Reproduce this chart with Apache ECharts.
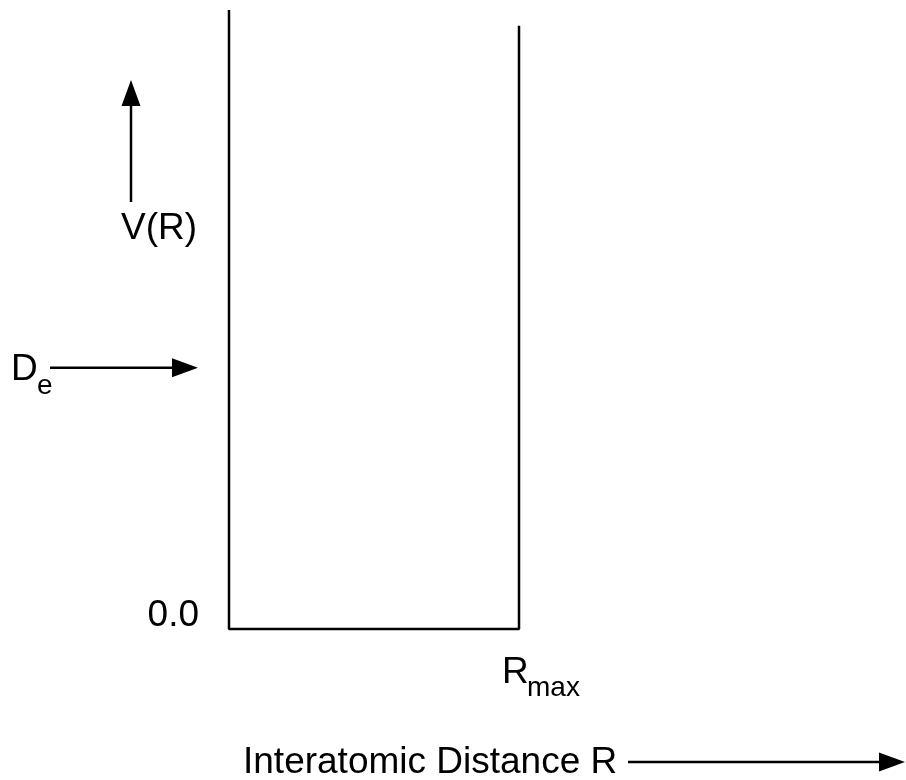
<!DOCTYPE html>
<html>
<head>
<meta charset="utf-8">
<script src="https://cdn.jsdelivr.net/npm/echarts@6/dist/echarts.min.js"></script>
<style>
  html, body { margin: 0; background: #fff; }
  #chart { width: 906px; height: 780px; }
</style>
</head>
<body>
<div id="chart"></div>
<script>
// square well: walls at R = 0 and R = Rmax, floor at V = 0
const wellR = [0, 0, 1, 1]
const wellV = [2.37, 0, 0, 2.31]
const deLevel = 1.0
const rMax = 1
const zeroLabel = '0.0'
const xTitle = 'Interatomic Distance R'
const yTitle = 'V(R)'

const font = 'Liberation Sans, Arial, sans-serif'
const chart = echarts.init(document.getElementById('chart'))

chart.setOption({
  animation: false,
  grid: { left: 229, right: 387, top: 10, bottom: 151 },
  xAxis: { type: 'value', min: 0, max: rMax, show: false },
  yAxis: { type: 'value', min: 0, max: 2.37, show: false },
  series: [{
    type: 'line',
    data: wellR.map((r, i) => [r, wellV[i]]),
    symbol: 'none',
    clip: false,
    lineStyle: { color: '#000', width: 2.5 }
  }]
})

const px = (x, y) => chart.convertToPixel({ gridIndex: 0 }, [x, y])

// line + filled triangular head
function arrow(x1, y1, x2, y2) {
  const len = Math.hypot(x2 - x1, y2 - y1)
  const dx = (x2 - x1) / len, dy = (y2 - y1) / len
  const L = 26, w = 9.5
  const bx = x2 - dx * L, by = y2 - dy * L
  return [
    { type: 'line', shape: { x1: x1, y1: y1, x2: bx, y2: by }, style: { stroke: '#000', lineWidth: 2.5 } },
    { type: 'polygon', shape: { points: [[x2, y2], [bx - dy * w, by + dx * w], [bx + dy * w, by - dx * w]] }, style: { fill: '#000' } }
  ]
}

function label(text, x, y, size, align) {
  return {
    type: 'text', x: x, y: y,
    style: { text: text, font: size + 'px ' + font, fill: '#000', textAlign: align || 'left', textVerticalAlign: 'middle' }
  }
}

const zero = px(0, 0)
const de = px(0, deLevel)
const rm = px(rMax, 0)

chart.setOption({
  graphic: [
    ...arrow(131, 202, 131, 80),
    label(yTitle, 159, 229, 37, 'center'),
    ...arrow(50, de[1], 198, de[1]),
    label('D', 11, de[1] + 2, 37),
    label('e', 37, de[1] + 18, 28),
    label(zeroLabel, 199, zero[1] - 13, 37, 'right'),
    label('R', rm[0] - 17, rm[1] + 44, 37),
    label('max', rm[0] + 8, rm[1] + 59, 28),
    label(xTitle, 243, 763, 37),
    ...arrow(628, 762, 905, 762)
  ]
})
</script>
</body>
</html>
